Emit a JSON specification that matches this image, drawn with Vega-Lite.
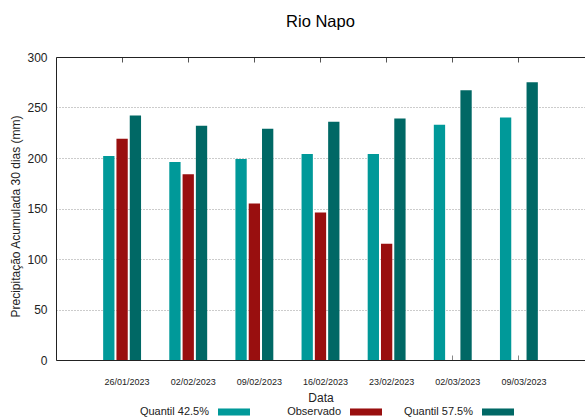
{
  "$schema": "https://vega.github.io/schema/vega-lite/v6.json",
  "width": 529,
  "height": 303,
  "autosize": "none",
  "padding": {"left": 56, "top": 57, "right": 0, "bottom": 59},
  "background": "white",
  "config": {"font": "Liberation Sans", "view": {"stroke": null}},
  "title": {"text": "Rio Napo", "fontSize": 16.5, "fontWeight": "normal", "font": "Liberation Sans", "color": "#000000", "offset": 21, "anchor": "middle"},
  "data": {"values": [
    {"Data": "26/01/2023", "Serie": "Quantil 42.5%", "Valor": 202},
    {"Data": "26/01/2023", "Serie": "Observado", "Valor": 219},
    {"Data": "26/01/2023", "Serie": "Quantil 57.5%", "Valor": 242},
    {"Data": "02/02/2023", "Serie": "Quantil 42.5%", "Valor": 196},
    {"Data": "02/02/2023", "Serie": "Observado", "Valor": 184},
    {"Data": "02/02/2023", "Serie": "Quantil 57.5%", "Valor": 232},
    {"Data": "09/02/2023", "Serie": "Quantil 42.5%", "Valor": 199},
    {"Data": "09/02/2023", "Serie": "Observado", "Valor": 155},
    {"Data": "09/02/2023", "Serie": "Quantil 57.5%", "Valor": 229},
    {"Data": "16/02/2023", "Serie": "Quantil 42.5%", "Valor": 204},
    {"Data": "16/02/2023", "Serie": "Observado", "Valor": 146},
    {"Data": "16/02/2023", "Serie": "Quantil 57.5%", "Valor": 236},
    {"Data": "23/02/2023", "Serie": "Quantil 42.5%", "Valor": 204},
    {"Data": "23/02/2023", "Serie": "Observado", "Valor": 115},
    {"Data": "23/02/2023", "Serie": "Quantil 57.5%", "Valor": 239},
    {"Data": "02/03/2023", "Serie": "Quantil 42.5%", "Valor": 233},
    {"Data": "02/03/2023", "Serie": "Quantil 57.5%", "Valor": 267},
    {"Data": "09/03/2023", "Serie": "Quantil 42.5%", "Valor": 240},
    {"Data": "09/03/2023", "Serie": "Quantil 57.5%", "Valor": 275}
  ]},
  "encoding": {
    "xOffset": {"field": "Serie", "type": "nominal", "scale": {"domain": ["Quantil 42.5%", "Observado", "Quantil 57.5%"], "paddingInner": 0.15, "paddingOuter": 0}},
    "y": {"field": "Valor", "type": "quantitative", "scale": {"domain": [0, 300], "nice": false},
      "axis": {"values": [0, 50, 100, 150, 200, 250, 300], "ticks": false, "labelPadding": 9, "labelFontSize": 12, "labelColor": "#222222",
        "domain": true, "domainColor": "#222222", "grid": true, "gridDash": [1, 2], "gridColor": "#999999",
        "title": "Precipitação Acumulada 30 dias (mm)", "titleFontSize": 12, "titleFontWeight": "normal", "titleColor": "#222222", "titlePadding": 4, "titleY": 159}},
    "color": {"field": "Serie", "type": "nominal",
      "scale": {"domain": ["Quantil 42.5%", "Observado", "Quantil 57.5%"], "range": ["#009999", "#990F0F", "#006865"]},
      "legend": {"title": null, "orient": "none", "legendX": 85, "legendY": 339, "direction": "horizontal", "columns": 3, "gridAlign": "all", "columnPadding": 21,
        "labelAlign": "right", "labelOffset": -41, "symbolOffset": 77, "symbolType": "M-1,-0.22H1V0.22H-1Z", "symbolSize": 1024, "symbolStrokeWidth": 0, "symbolOpacity": 1,
        "labelFontSize": 11, "labelColor": "#222222", "labelLimit": 200}}
  },
  "layer": [
    {
      "mark": {"type": "bar"},
      "encoding": {
        "x": {"field": "Data", "type": "nominal", "sort": null, "scale": {"paddingInner": 0.427, "paddingOuter": 0.713},
          "axis": {"orient": "bottom", "labelAngle": 0, "labelFontSize": 9, "labelColor": "#222222", "labelPadding": 22, "labelOffset": 5,
            "ticks": true, "tickSize": -5, "tickColor": "#888888", "domainColor": "#222222",
            "title": "Data", "titleFontSize": 12, "titleFontWeight": "normal", "titleColor": "#222222", "titlePadding": 6}}
      }
    },
    {
      "mark": {"type": "bar", "opacity": 0},
      "encoding": {
        "x": {"field": "Data", "type": "nominal", "sort": null, "scale": {"paddingInner": 0.427, "paddingOuter": 0.713},
          "axis": {"orient": "top", "labels": false, "title": null, "ticks": true, "tickSize": -5, "tickColor": "#555555", "domainColor": "#222222"}}
      }
    }
  ],
  "resolve": {"axis": {"x": "independent"}}
}
